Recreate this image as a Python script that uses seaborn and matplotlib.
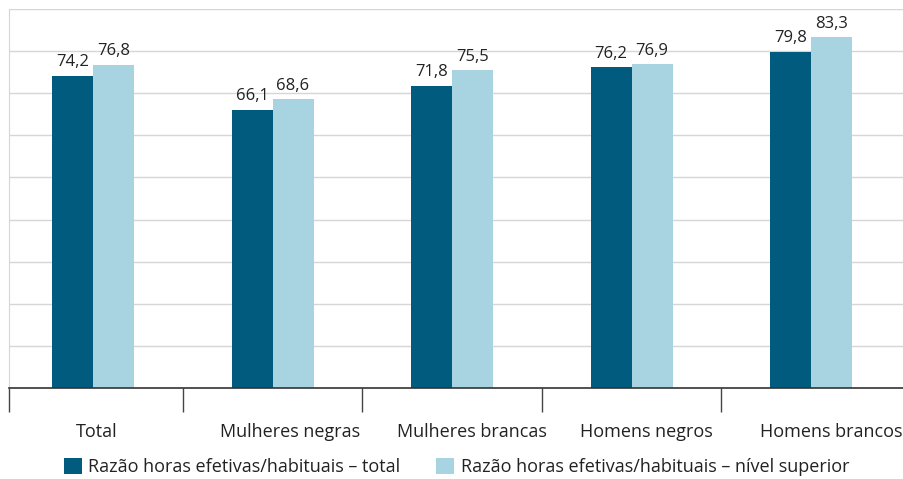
import pandas as pd
import matplotlib.pyplot as plt
import seaborn as sns

# data
categorias = ["Total", "Mulheres negras", "Mulheres brancas", "Homens negros", "Homens brancos"]
serie_total = [74.2, 66.1, 71.8, 76.2, 79.8]
serie_superior = [76.8, 68.6, 75.5, 76.9, 83.3]
nomes_series = ["Razão horas efetivas/habituais – total",
                "Razão horas efetivas/habituais – nível superior"]
cores = ["#005b7f", "#a8d4e2"]

df = pd.DataFrame({
    "categoria": categorias * 2,
    "valor": serie_total + serie_superior,
    "serie": [nomes_series[0]] * len(categorias) + [nomes_series[1]] * len(categorias),
})

sns.set_style("white")
plt.rcParams["font.family"] = ["Open Sans", "DejaVu Sans"]

fig = plt.figure(figsize=(9.04, 4.79), dpi=100)
ax = fig.add_axes([0.00996, 0.19, 0.99004, 0.791])

sns.barplot(data=df, x="categoria", y="valor", hue="serie", order=categorias,
            hue_order=nomes_series, palette=cores, width=0.456, gap=0,
            saturation=1, linewidth=0, ax=ax, legend=True)

# value labels with comma decimals
for cont in ax.containers:
    vals = [b.get_height() for b in cont]
    ax.bar_label(cont, labels=[f"{v:.1f}".replace(".", ",") for v in vals],
                 padding=4, fontsize=12, color="#222222")

ax.set_ylim(0, 90)
ax.set_yticks(range(0, 91, 10))
ax.set_yticklabels([])
ax.tick_params(axis="y", length=0)
ax.yaxis.grid(True, color="#d6d6d6", linewidth=1)
ax.set_axisbelow(True)

# category labels sit a bit right of the bar pairs in the original
desloc = [0.02, 0.10, 0.11, 0.08, 0.11]
ax.set_xlim(-0.468, 4.517)
ax.set_xticks([i + d for i, d in enumerate(desloc)])
ax.set_xticklabels(categorias, fontsize=13, color="#222222")
ax.tick_params(axis="x", which="major", length=0, pad=25)
ax.set_xticks([-0.468, 0.5, 1.5, 2.5, 3.5], minor=True)
ax.tick_params(axis="x", which="minor", bottom=True, length=17, width=1, color="#444444")
ax.set_xlabel("")
ax.set_ylabel("")

for s in ["top", "right"]:
    ax.spines[s].set_visible(False)
ax.spines["left"].set_color("#d6d6d6")
ax.spines["bottom"].set_color("#333333")
ax.spines["bottom"].set_linewidth(1.2)

handles, labels = ax.get_legend_handles_labels()
ax.get_legend().remove()
fig.legend(handles, labels, loc="center", bbox_to_anchor=(0.505, 0.025), ncol=2,
           frameon=False, fontsize=13, handlelength=1.0, handleheight=1.0,
           handletextpad=0.35, columnspacing=2.0, labelcolor="#222222")

fig.savefig("out.png", dpi=100)
